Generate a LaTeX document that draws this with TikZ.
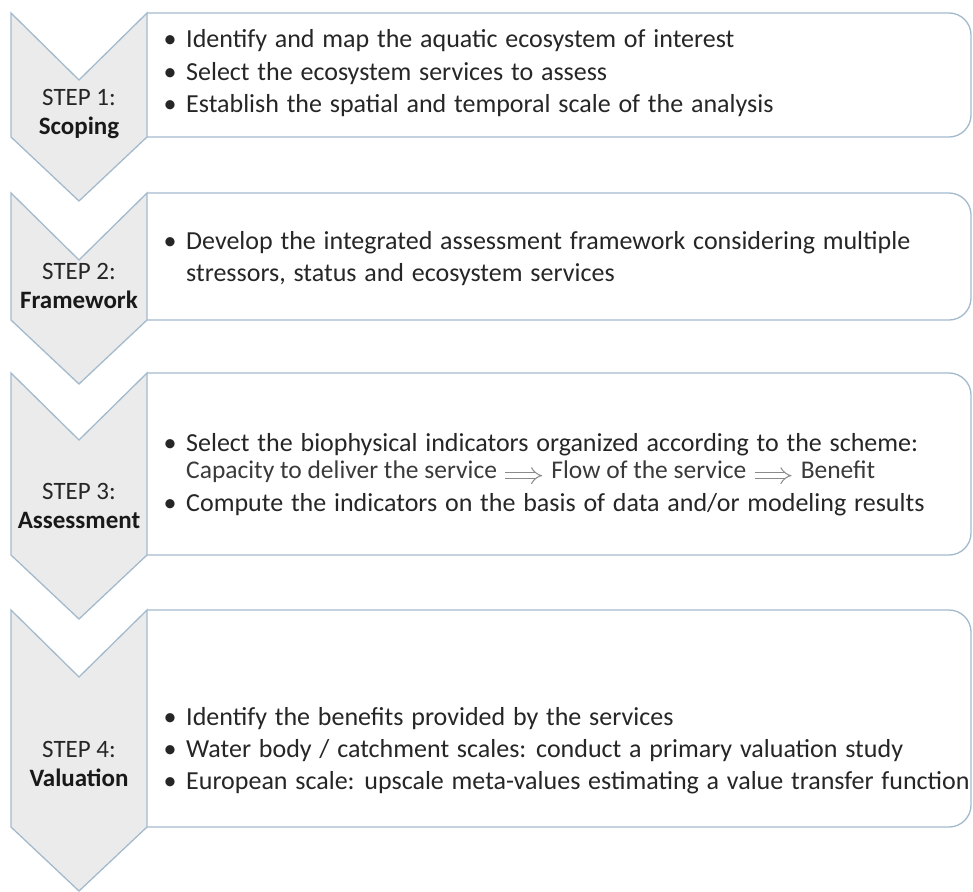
\documentclass[tikz,border=0pt]{standalone}
\usepackage{fontspec}
\setmainfont{Carlito}
\usetikzlibrary{arrows.meta}
\definecolor{edgecol}{HTML}{A3BACD}
\definecolor{chevfill}{HTML}{EBEBEB}
\definecolor{txtcol}{HTML}{262626}
\definecolor{txtsoft}{HTML}{3A3A3A}
\definecolor{arrcol}{HTML}{8A8A8A}
\newcommand{\bodyfont}{\fontsize{26}{30}\selectfont\spaceskip=0.3em plus 0.1em}
\newcommand{\softfont}{\fontsize{25.5}{30}\selectfont}
\newcommand{\labelfont}{\fontsize{25}{29}\selectfont}
\tikzset{
  chevron/.style={draw=edgecol, fill=chevfill, line width=1.3pt, line join=miter},
  panel/.style={draw=edgecol, fill=white, line width=1.3pt},
  bodytext/.style={anchor=base west, inner sep=0pt, text=txtcol, font=\bodyfont},
  softtext/.style={anchor=base west, inner sep=0pt, text=txtsoft, font=\softfont},
  bulletmark/.style={anchor=base, inner sep=0pt, text=txtcol, font=\bodyfont},
  steplabel/.style={anchor=base, inner sep=0pt, text=txtcol, font=\labelfont},
  stepname/.style={anchor=base, inner sep=0pt, text=black!90, font=\labelfont\bfseries},
  flowarrow/.style={draw=arrcol, double=white, double distance=5pt, line width=1pt, -{Implies[length=8pt]}}
}
\begin{document}
\begin{tikzpicture}[x=1pt,y=-1pt]
\useasboundingbox (0,0) rectangle (973,891);
\fill[white] (0,0) rectangle (973,891);
% panels
\foreach \t/\b in {13/137, 193/320, 373/555, 610/827}{
  \draw[panel] (147,\t) [rounded corners=22pt] -- (971,\t) -- (971,\b) -- (900,\b) [sharp corners] -- (147,\b);
}
% chevrons
\foreach \t/\b in {13/137, 193/320, 373/555, 610/827}{
  \draw[chevron] (11,\t) -- (79,\t+67) -- (147,\t) -- (147,\b) -- (79,\b+64) -- (11,\b) -- cycle;
}
% step labels
\node[steplabel] (s1) at (79,105) {STEP 1:};
\node[stepname]  (n1) at (79,134) {Scoping};
\node[steplabel] (s2) at (79,279) {STEP 2:};
\node[stepname]  (n2) at (79,308) {Framework};
\node[steplabel] (s3) at (79,499) {STEP 3:};
\node[stepname]  (n3) at (79,528) {Assessment};
\node[steplabel] (s4) at (79,757) {STEP 4:};
\node[stepname]  (n4) at (79,786) {Valuation};
% box 1
\node[bulletmark] (b11) at (170,48) {•};
\node[bodytext] (t11) at (186,48) {Identify and map the aquatic ecosystem of interest};
\node[bulletmark] (b12) at (170,80) {•};
\node[bodytext] (t12) at (186,80) {Select the ecosystem services to assess};
\node[bulletmark] (b13) at (170,112) {•};
\node[bodytext] (t13) at (186,112) {Establish the spatial and temporal scale of the analysis};
% box 2
\node[bulletmark] (b21) at (170,249) {•};
\node[bodytext] (t21) at (186,249) {Develop the integrated assessment framework considering multiple};
\node[bodytext] (t22) at (186,281) {stressors, status and ecosystem services};
% box 3
\node[bulletmark] (b31) at (170,451) {•};
\node[bodytext] (t31) at (186,451) {Select the biophysical indicators organized according to the scheme:};
\node[softtext] (c1) at (186,478) {Capacity to deliver the service};
\node[softtext] (c2) at ([xshift=54pt]c1.base east) {Flow of the service};
\node[softtext] (c3) at ([xshift=54pt]c2.base east) {Benefit};
\draw[flowarrow] ([xshift=8pt]c1.mid east) -- ([xshift=-9pt]c2.mid west);
\draw[flowarrow] ([xshift=8pt]c2.mid east) -- ([xshift=-9pt]c3.mid west);
\node[bulletmark] (b33) at (170,511) {•};
\node[bodytext] (t33) at (186,511) {Compute the indicators on the basis of data and/or modeling results};
% box 4
\node[bulletmark] (b41) at (170,725) {•};
\node[bodytext] (t41) at (186,725) {Identify the benefits provided by the services};
\node[bulletmark] (b42) at (170,757) {•};
\node[bodytext] (t42) at (186,757) {Water body / catchment scales: conduct a primary valuation study};
\node[bulletmark] (b43) at (170,789) {•};
\node[bodytext] (t43) at (186,789) {European scale: upscale meta-values estimating a value transfer function};
\end{tikzpicture}
\end{document}
